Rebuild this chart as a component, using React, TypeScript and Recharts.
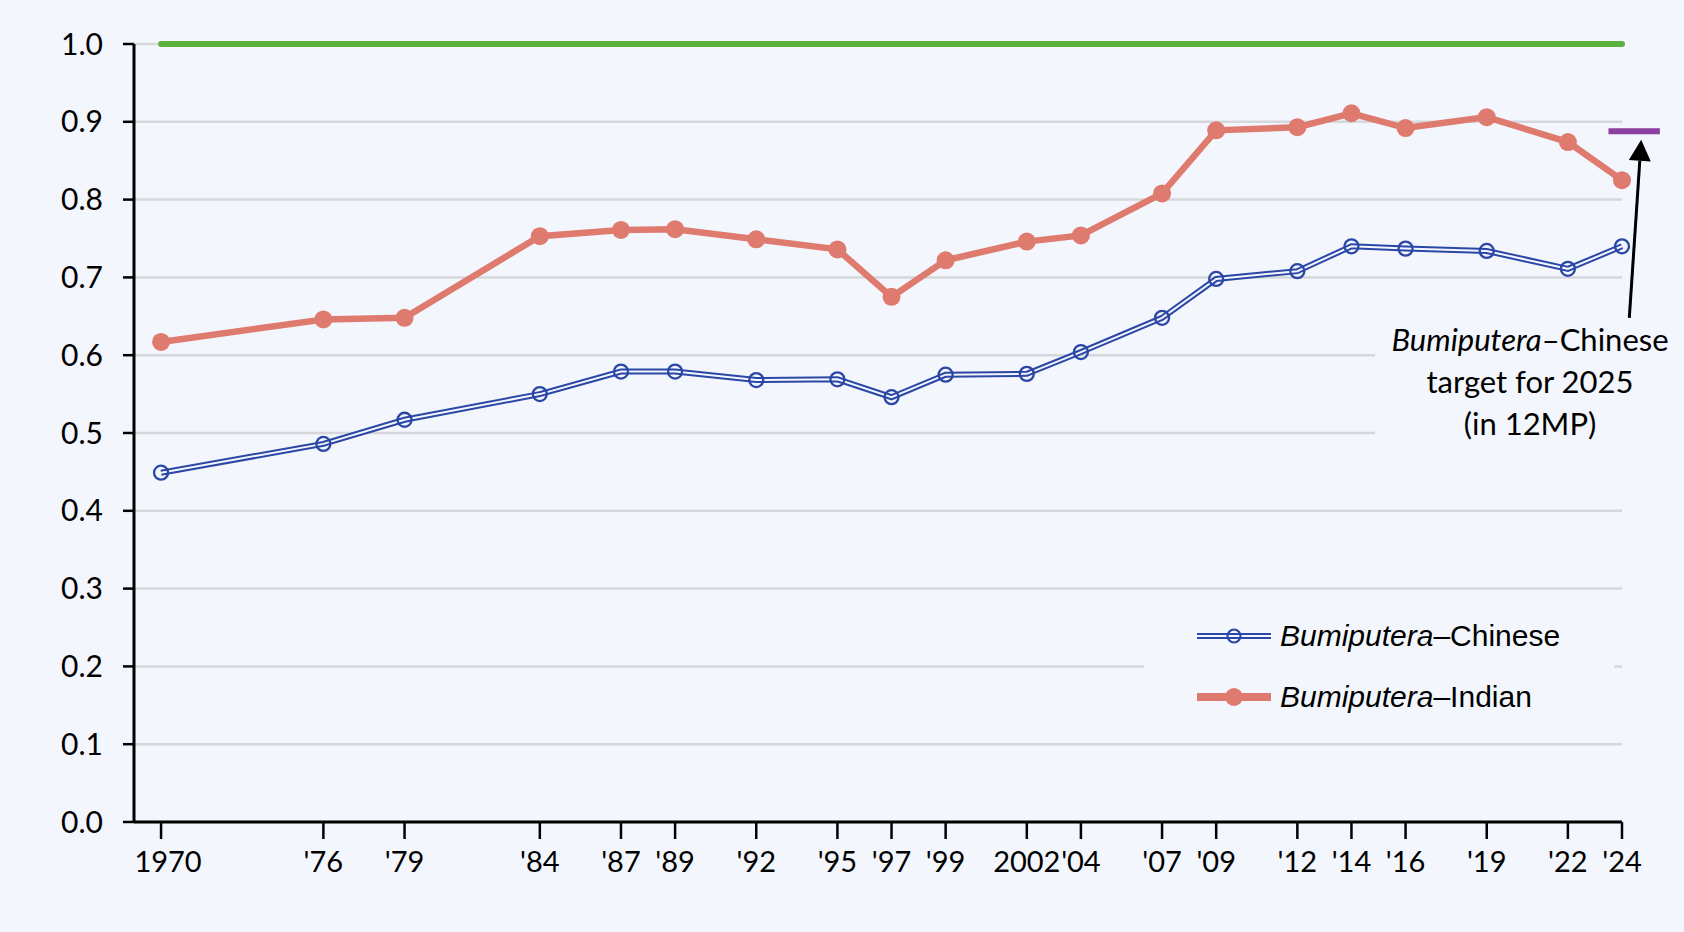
import React from "react"
import {
  LineChart,
  Line,
  XAxis,
  YAxis,
  CartesianGrid,
  Legend,
  ReferenceLine,
} from "recharts"

const YEARS = [1970, 1976, 1979, 1984, 1987, 1989, 1992, 1995, 1997, 1999, 2002, 2004, 2007, 2009, 2012, 2014, 2016, 2019, 2022, 2024]
const YEAR_LABELS = ["1970", "'76", "'79", "'84", "'87", "'89", "'92", "'95", "'97", "'99", "2002", "'04", "'07", "'09", "'12", "'14", "'16", "'19", "'22", "'24"]
const CHINESE = [0.449, 0.486, 0.517, 0.550, 0.579, 0.579, 0.568, 0.569, 0.546, 0.575, 0.576, 0.604, 0.648, 0.698, 0.708, 0.740, 0.737, 0.734, 0.711, 0.740]
const INDIAN = [0.617, 0.646, 0.648, 0.753, 0.761, 0.762, 0.749, 0.736, 0.675, 0.722, 0.746, 0.754, 0.808, 0.889, 0.893, 0.911, 0.892, 0.906, 0.874, 0.825]
const PARITY = 1.0
const TARGET_2025 = 0.888
const Y_TICKS = [0, 0.1, 0.2, 0.3, 0.4, 0.5, 0.6, 0.7, 0.8, 0.9, 1.0]

const BG = "#f3f6fc"
const RED = "#df7a6f"
const BLUE = "#2b47a6"
const GREEN = "#5bb33d"
const PURPLE = "#8d3fa0"
const FONT = "Lato, 'Noto Sans', sans-serif"
const LEGEND_FONT = "'Liberation Sans', Arial, sans-serif"

document.body.style.margin = "0"
document.body.style.background = BG

const data = YEARS.map((year, i) => ({
  year,
  chinese: CHINESE[i],
  indian: INDIAN[i],
  parity: PARITY,
}))

const labelFor = (v: number) => {
  const i = YEARS.indexOf(v)
  return i >= 0 ? YEAR_LABELS[i] : String(v)
}

// line with a filled triangle head at (x2, y2)
function Arrow(props: any) {
  const { x1, y1, x2, y2 } = props
  const a = Math.atan2(y2 - y1, x2 - x1)
  const len = 21
  const half = 11
  const bx = x2 - len * Math.cos(a)
  const by = y2 - len * Math.sin(a)
  const pts = [
    `${x2},${y2}`,
    `${bx - half * Math.sin(a)},${by + half * Math.cos(a)}`,
    `${bx + half * Math.sin(a)},${by - half * Math.cos(a)}`,
  ].join(" ")
  return (
    <g>
      <line x1={x1} y1={y1} x2={bx} y2={by} stroke="#000" strokeWidth={3} />
      <polygon points={pts} fill="#000" />
    </g>
  )
}

function YearTick(props: any) {
  const { x, y, payload } = props
  // the first label sits a touch right of its tick
  const dx = payload.value === YEARS[0] ? 7 : 0
  return (
    <text x={x + dx} y={y} dy="0.71em" textAnchor="middle" fill="#000" fontSize={29} fontFamily={FONT}>
      {labelFor(payload.value)}
    </text>
  )
}

function LegendContent() {
  const row = { display: "flex", alignItems: "center", height: 61 } as const
  const text = { fontFamily: LEGEND_FONT, fontSize: 30, color: "#000", marginLeft: 9 }
  return (
    <div style={{ paddingLeft: 53, paddingTop: 5 }}>
      <div style={row}>
        <svg width={74} height={20}>
          <line x1={0} y1={10} x2={74} y2={10} stroke={BLUE} strokeWidth={6} />
          <line x1={0} y1={10} x2={74} y2={10} stroke={BG} strokeWidth={2} />
          <circle cx={37} cy={10} r={6.5} fill="none" stroke={BLUE} strokeWidth={2.2} />
        </svg>
        <span style={text}>
          <i>Bumiputera</i>–Chinese
        </span>
      </div>
      <div style={row}>
        <svg width={74} height={20}>
          <line x1={0} y1={10} x2={74} y2={10} stroke={RED} strokeWidth={8} />
          <circle cx={37} cy={10} r={9} fill={RED} />
        </svg>
        <span style={text}>
          <i>Bumiputera</i>–Indian
        </span>
      </div>
    </div>
  )
}

export default function App() {
  return (
    <div style={{ position: "relative", width: 1684, height: 932, background: BG }}>
      <LineChart
        width={1684}
        height={932}
        data={data}
        margin={{ top: 44, right: 62, bottom: 0, left: 0 }}
      >
        <CartesianGrid horizontal vertical={false} stroke="#d5d7dc" strokeWidth={2.5} />
        <XAxis
          dataKey="year"
          type="number"
          domain={[1969, 2024]}
          ticks={YEARS}
          interval={0}
          tickFormatter={labelFor}
          height={110}
          tickSize={17}
          tickMargin={12}
          axisLine={{ stroke: "#000", strokeWidth: 3 }}
          tickLine={{ stroke: "#000", strokeWidth: 2.5 }}
          tick={<YearTick />}
        />
        <YAxis
          domain={[0, 1]}
          ticks={Y_TICKS}
          interval={0}
          tickFormatter={(v: number) => v.toFixed(1)}
          width={134}
          tickSize={11}
          tickMargin={20}
          axisLine={{ stroke: "#000", strokeWidth: 3 }}
          tickLine={{ stroke: "#000", strokeWidth: 2.5 }}
          tick={{ fill: "#000", fontSize: 30, fontFamily: FONT }}
        />
        <Line
          dataKey="parity"
          stroke={GREEN}
          strokeWidth={6}
          strokeLinecap="round"
          dot={false}
          activeDot={false}
          legendType="none"
          isAnimationActive={false}
        />
        <Line
          dataKey="indian"
          name="Bumiputera–Indian"
          stroke={RED}
          strokeWidth={6.5}
          dot={{ r: 9, fill: RED, stroke: RED, strokeWidth: 0 }}
          activeDot={false}
          isAnimationActive={false}
        />
        <Line
          dataKey="chinese"
          name="Bumiputera–Chinese"
          stroke={BLUE}
          strokeWidth={6}
          dot={{ r: 7, fill: "none", stroke: BLUE, strokeWidth: 2.3 }}
          activeDot={false}
          isAnimationActive={false}
        />
        <Line
          dataKey="chinese"
          stroke={BG}
          strokeWidth={2}
          dot={false}
          activeDot={false}
          legendType="none"
          isAnimationActive={false}
        />
        <ReferenceLine
          segment={[
            { x: 2023.5, y: TARGET_2025 },
            { x: 2025.4, y: TARGET_2025 },
          ]}
          stroke={PURPLE}
          strokeWidth={6}
          ifOverflow="visible"
        />
        <ReferenceLine
          segment={[
            { x: 2024.27, y: 0.648 },
            { x: 2024.71, y: 0.877 },
          ]}
          shape={Arrow}
          ifOverflow="visible"
        />
        <Legend
          layout="vertical"
          align="center"
          verticalAlign="middle"
          width={470}
          height={130}
          content={LegendContent}
          wrapperStyle={{ left: 1144, top: 600, width: 470, height: 130, background: BG }}
        />
      </LineChart>
      <div
        style={{
          position: "absolute",
          left: 1375,
          top: 318,
          width: 310,
          height: 132,
          background: BG,
          textAlign: "center",
          fontFamily: FONT,
          fontSize: 31,
          lineHeight: "42px",
          color: "#000",
        }}
      >
        <i>Bumiputera</i>–Chinese
        <br />
        target for 2025
        <br />
        (in 12MP)
      </div>
    </div>
  )
}
